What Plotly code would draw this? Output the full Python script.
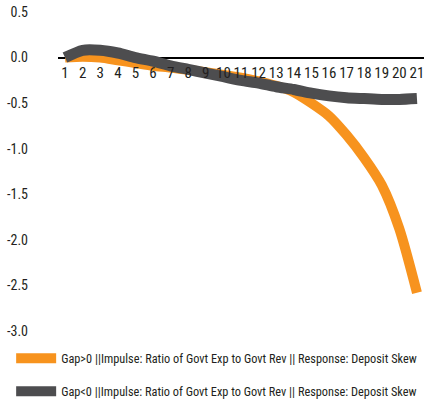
import plotly.graph_objects as go

periods = list(range(1, 22))
gap_pos = [0.0, 0.01, 0.0, -0.03, -0.06, -0.09, -0.11, -0.135, -0.16, -0.19, -0.22,
           -0.26, -0.31, -0.38, -0.50, -0.64, -0.85, -1.10, -1.40, -1.88, -2.58]
gap_neg = [0.0, 0.08, 0.08, 0.05, 0.0, -0.04, -0.09, -0.13, -0.17, -0.21, -0.25,
           -0.28, -0.32, -0.35, -0.39, -0.42, -0.44, -0.45, -0.46, -0.46, -0.45]
names = ["Gap>0 ||Impulse: Ratio of Govt Exp to Govt Rev || Response: Deposit Skew",
         "Gap<0 ||Impulse: Ratio of Govt Exp to Govt Rev || Response: Deposit Skew"]
y_ticks = [0.5, 0.0, -0.5, -1.0, -1.5, -2.0, -2.5, -3.0]
y_labels = ["0.5", "0.0", "-0.5", "-1.0", "-1.5", "-2.0", "-2.5", "-3.0"]

FONT = "Roboto Condensed, Liberation Sans, sans-serif"

def f(size):
    return dict(size=size, family=FONT, color="#231F20")

fig = go.Figure()
fig.add_trace(go.Scatter(x=periods, y=gap_pos, mode="lines", name=names[0],
                         legendgroup="a",
                         line=dict(color="#F7931E", width=10, shape="spline", smoothing=0.7)))
fig.add_trace(go.Scatter(x=periods, y=gap_neg, mode="lines", name=names[1],
                         legendgroup="b",
                         line=dict(color="#4D4D4F", width=11, shape="spline", smoothing=0.7)))

H_PLOT = 406 - 12 - 75
zero_frac = (331 - 57.6) / H_PLOT

fig.update_layout(
    width=424, height=406,
    margin=dict(l=58, r=0, t=12, b=75, autoexpand=False),
    paper_bgcolor="white", plot_bgcolor="white",
    font=f(13),
    showlegend=True,
    legend=dict(x=-0.128, xanchor="left", y=-0.04, yanchor="top",
                font=f(12.3),
                tracegroupgap=14, itemwidth=40, bgcolor="rgba(0,0,0,0)"),
    xaxis=dict(range=[0.6, 21.4], tickmode="array", tickvals=periods,
               ticktext=[str(p) for p in periods], tickangle=0,
               anchor="free", position=zero_frac, side="bottom",
               showgrid=False, zeroline=False, showline=False, ticks="",
               tickfont=f(15), ticklabelstandoff=4, ticklabeloverflow="allow"),
    yaxis=dict(range=[-3.0, 0.5], tickmode="array", tickvals=y_ticks, ticktext=y_labels,
               showgrid=False, zeroline=True, zerolinecolor="#000000", zerolinewidth=2,
               showline=False, ticks="",
               tickfont=f(14), ticklabelstandoff=29),
)

fig.write_html("out.html", config={"displayModeBar": False},
               post_script="document.body.style.margin='0';")
